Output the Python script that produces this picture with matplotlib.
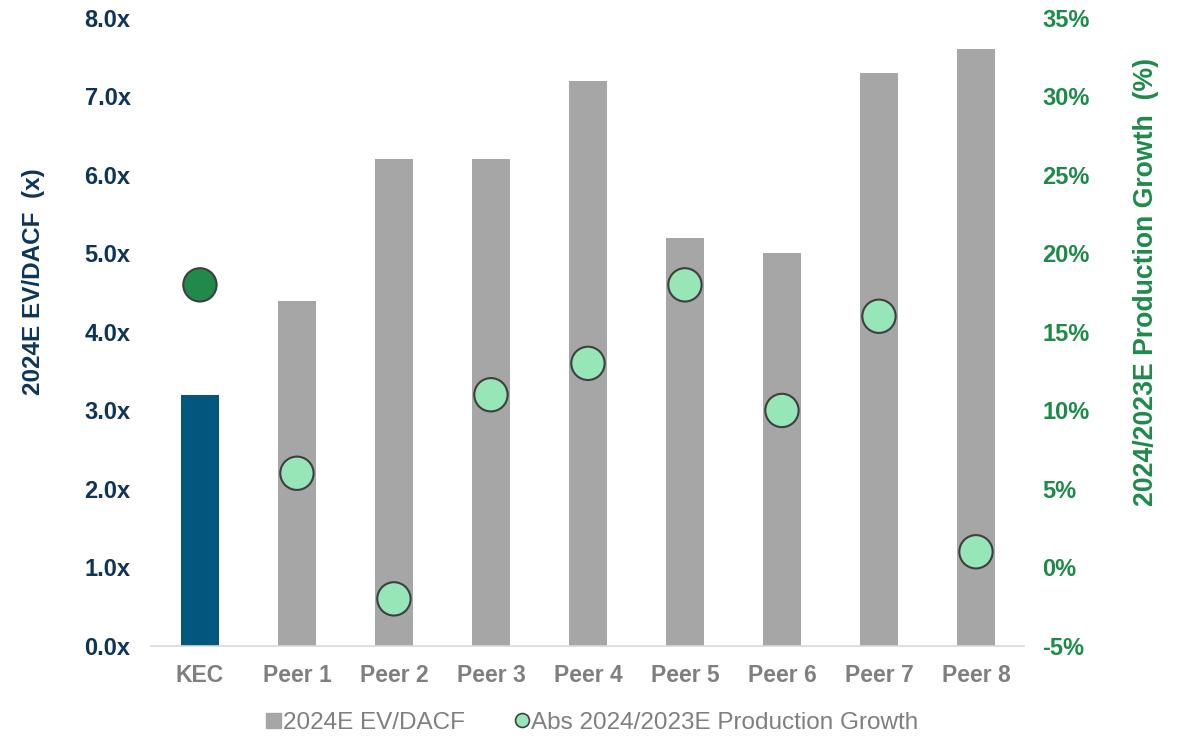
import matplotlib.pyplot as plt
from matplotlib.lines import Line2D
from matplotlib.ticker import FuncFormatter

plt.rcParams['font.family'] = ['Liberation Sans', 'DejaVu Sans']

# ---- data ----
categories = ['KEC', 'Peer 1', 'Peer 2', 'Peer 3', 'Peer 4',
              'Peer 5', 'Peer 6', 'Peer 7', 'Peer 8']
ev_dacf = [3.2, 4.4, 6.2, 6.2, 7.2, 5.2, 5.0, 7.3, 7.6]
growth = [18, 6, -2, 11, 13, 18, 10, 16, 1]

NAVY = '#0E3457'
GREEN = '#1E8A4A'
GRAY = '#A6A6A6'
BAR_KEC = '#03577E'
DOT = '#96E6B8'
DOT_KEC = '#1F8A4A'
TXT_GRAY = '#7F7F7F'

fig = plt.figure(figsize=(11.83, 7.38), dpi=100)
ax = fig.add_axes([0.128, 0.1247, 0.738, 0.851])
x = range(len(categories))
bar_colors = [BAR_KEC] + [GRAY] * (len(categories) - 1)
ax.bar(x, ev_dacf, width=0.4, color=bar_colors, zorder=2)
ax.set_xlim(-0.5, len(categories) - 0.5)
ax.set_ylim(0, 8)
ax.set_yticks(range(0, 9))
ax.yaxis.set_major_formatter(FuncFormatter(lambda v, p: f'{v:.1f}x'))
ax.set_xticks(list(x))
ax.set_xticklabels(categories)
for s in ['top', 'right', 'left']:
    ax.spines[s].set_visible(False)
ax.spines['bottom'].set_color('#D9D9D9')
ax.spines['bottom'].set_linewidth(1.2)
ax.tick_params(axis='both', length=0)
ax.tick_params(axis='y', labelsize=17, labelcolor=NAVY, pad=15)
ax.tick_params(axis='x', labelsize=16.5, labelcolor=TXT_GRAY, pad=13)
for lbl in ax.get_yticklabels() + ax.get_xticklabels():
    lbl.set_fontweight('bold')
ax.set_ylabel('2024E EV/DACF  (x)', fontsize=17.5, fontweight='bold',
              color=NAVY)
ax.yaxis.set_label_coords(-0.122, 0.58)

ax2 = ax.twinx()
ax2.set_ylim(-5, 35)
ax2.set_yticks(range(-5, 36, 5))
ax2.yaxis.set_major_formatter(FuncFormatter(lambda v, p: f'{v:.0f}%'))
for s in ['top', 'right', 'left', 'bottom']:
    ax2.spines[s].set_visible(False)
ax2.tick_params(axis='y', length=0, labelsize=17, labelcolor=GREEN, pad=13)
for lbl in ax2.get_yticklabels():
    lbl.set_fontweight('bold')
ax2.set_ylabel('2024/2023E Production Growth  (%)', fontsize=19.2,
               fontweight='bold', color=GREEN)
ax2.yaxis.set_label_coords(1.124, 0.58)
dot_colors = [DOT_KEC] + [DOT] * (len(categories) - 1)
ax2.scatter(list(x), growth, s=24 ** 2, c=dot_colors, edgecolors='#3F3F3F',
            linewidths=1.5, zorder=3)

handles = [
    Line2D([], [], marker='s', linestyle='none', markersize=10.8,
           markerfacecolor=GRAY, markeredgecolor=GRAY,
           label='2024E EV/DACF'),
    Line2D([], [], marker='o', linestyle='none', markersize=10,
           markerfacecolor=DOT, markeredgecolor='#3F3F3F',
           markeredgewidth=1.2, label='Abs 2024/2023E Production Growth'),
]
fig.legend(handles=handles, loc='center', bbox_to_anchor=(0.5, 0.021),
           ncol=2, frameon=False, fontsize=17.5, labelcolor=TXT_GRAY,
           handletextpad=0.05, columnspacing=2.0, handlelength=0.7)

plt.savefig('out.png', dpi=100)
